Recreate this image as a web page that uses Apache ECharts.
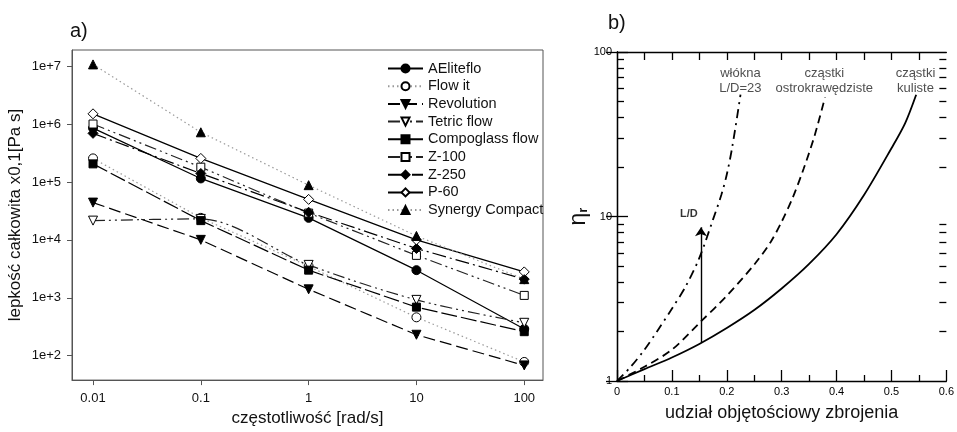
<!DOCTYPE html>
<html lang="pl">
<head>
<meta charset="UTF-8">
<title>Lepkość kompozytów</title>
<style>
  html, body { margin: 0; padding: 0; background: #fff; }
  #chart { width: 957px; height: 432px; }
</style>
<script src="https://cdn.jsdelivr.net/npm/echarts@6/dist/echarts.min.js"></script>
</head>
<body>
<div id="chart"></div>
<script>
  // ---- panel a) : lepkość vs częstotliwość ----
  var freq = [0.01, 0.1, 1, 10, 100];
  var freqLabels = ['0.01', '0.1', '1', '10', '100'];
  var viscTicks = [1e2, 1e3, 1e4, 1e5, 1e6, 1e7];

  var aeliteflo  = [8.5e5, 1.15e5, 2.4e4, 3.0e3, 2.9e2];
  var flowIt     = [2.55e5, 2.4e4, 3.5e3, 4.6e2, 78];
  var revolution = [4.4e4, 1.0e4, 1.4e3, 2.3e2, 68];
  var tetricFlow = [2.15e4, 2.3e4, 3.7e3, 9.2e2, 3.7e2];
  var compoglass = [2.05e5, 2.15e4, 3.0e3, 6.9e2, 2.6e2];
  var z100       = [1.0e6, 1.8e5, 2.9e4, 5.4e3, 1.1e3];
  var z250       = [6.9e5, 1.4e5, 3.0e4, 7.1e3, 2.1e3];
  var p60        = [1.5e6, 2.55e5, 5.0e4, 1.0e4, 2.8e3];
  var synergy    = [1.07e7, 7.2e5, 8.8e4, 1.17e4, 2.1e3];

  // ---- panel b) : eta_r vs udział objętościowy ----
  var phiTicks = [0, 0.1, 0.2, 0.3, 0.4, 0.5, 0.6];
  var phiMinor = [0.05, 0.15, 0.25, 0.35, 0.45, 0.55];
  var phiTop = [0.05, 0.1, 0.15, 0.2, 0.25, 0.3, 0.35, 0.4, 0.45, 0.5, 0.55];
  var etaMajor = [1, 10, 100];
  var etaMinor = [2, 3, 4, 5, 6, 7, 8, 9, 20, 30, 40, 50, 60, 70, 80, 90];

  var phiSphere = [0, 0.05, 0.1, 0.15, 0.2, 0.25, 0.3, 0.35, 0.4, 0.45, 0.5, 0.525, 0.545];
  var etaSphere = [1, 1.18, 1.39, 1.68, 2.1, 2.7, 3.65, 5.15, 7.8, 13.5, 26, 37, 55];
  var phiAngular = [0, 0.05, 0.1, 0.15, 0.2, 0.25, 0.28, 0.3, 0.32, 0.34, 0.36, 0.379];
  var etaAngular = [1, 1.22, 1.55, 2.25, 3.3, 5.1, 7.0, 9.3, 13, 19.5, 31, 53];
  var phiFibre = [0, 0.025, 0.05, 0.075, 0.1, 0.125, 0.15, 0.175, 0.19, 0.2, 0.21, 0.225];
  var etaFibre = [1, 1.22, 1.55, 2.05, 2.75, 3.75, 5.6, 9.6, 13.5, 18, 26.5, 55];

  var arrowPhi = 0.153, arrowFrom = 1.7, arrowTo = 8.6;
  var noteText = ['włókna\nL/D=23', 'cząstki\nostrokrawędziste', 'cząstki\nkuliste'];
  var notePhi = [0.2248, 0.3776, 0.5438];
  var noteEta = [66.8, 66.8, 66.8];

  var FONT = '"Liberation Sans", Arial, sans-serif';

  function pairs(xs, ys) {
    return xs.map(function (x, i) { return [x, ys[i]]; });
  }

  // styl serii panelu a
  var seriesA = [
    { name: 'AEliteflo', vals: aeliteflo, symbol: 'circle', fill: '#000', line: '#000', type: 'solid' },
    { name: 'Flow it', vals: flowIt, symbol: 'circle', fill: '#fff', line: '#999', type: [1.5, 3] },
    { name: 'Revolution', vals: revolution, symbol: 'triangle', rot: 180, fill: '#000', line: '#000', type: [12, 5] },
    { name: 'Tetric flow', vals: tetricFlow, symbol: 'triangle', rot: 180, fill: '#fff', line: '#222', type: [12, 4, 2, 4, 2, 4], smooth: 0.3 },
    { name: 'Compoglass flow', vals: compoglass, symbol: 'rect', fill: '#000', line: '#000', type: [16, 4] },
    { name: 'Z-100', vals: z100, symbol: 'rect', fill: '#fff', line: '#222', type: [12, 4, 2, 4, 2, 4] },
    { name: 'Z-250', vals: z250, symbol: 'diamond', fill: '#000', line: '#000', type: [14, 4, 2, 4] },
    { name: 'P-60', vals: p60, symbol: 'diamond', fill: '#fff', line: '#000', type: 'solid' },
    { name: 'Synergy Compact', vals: synergy, symbol: 'triangle', fill: '#000', line: '#999', type: [1.5, 3] }
  ];

  var series = seriesA.map(function (s) {
    return {
      name: s.name,
      type: 'line',
      xAxisIndex: 0,
      yAxisIndex: 0,
      data: pairs(freq, s.vals),
      smooth: s.smooth || false,
      symbol: s.symbol,
      symbolSize: s.symbol === 'diamond' ? 10 : (s.symbol === 'rect' ? 8 : 9),
      symbolRotate: s.rot || 0,
      itemStyle: { color: s.fill, borderColor: '#000', borderWidth: 1 },
      lineStyle: { color: s.line, width: 1.2, type: s.type },
      emphasis: { disabled: true }
    };
  });

  var lineB = function (name, xs, ys, type) {
    return {
      name: name, type: 'line', xAxisIndex: 1, yAxisIndex: 1,
      data: pairs(xs, ys), smooth: 0.3,
      showSymbol: false, symbol: 'none',
      lineStyle: { color: '#000', width: 1.8, type: type },
      emphasis: { disabled: true }
    };
  };

  var sphere = lineB('kuliste', phiSphere, etaSphere, 'solid');
  sphere.markLine = {
    silent: true,
    symbol: ['none', 'arrow'],
    symbolSize: 9,
    label: { show: false },
    lineStyle: { color: '#000', width: 1.4, type: 'solid' },
    data: [[{ coord: [arrowPhi, arrowFrom] }, { coord: [arrowPhi, arrowTo] }]]
  };
  series.push(sphere);
  series.push(lineB('ostrokrawedziste', phiAngular, etaAngular, [8, 5]));
  series.push(lineB('wlokna', phiFibre, etaFibre, [9, 5, 2, 5]));

  series.push({
    type: 'scatter', xAxisIndex: 1, yAxisIndex: 1, silent: true,
    symbolSize: 0,
    data: notePhi.map(function (p, i) { return [p, noteEta[i], noteText[i]]; }),
    label: {
      show: true, position: 'inside', formatter: function (p) { return p.data[2]; },
      fontFamily: FONT, fontSize: 13, lineHeight: 15, color: '#222', align: 'center'
    }
  });
  series.push({
    type: 'scatter', xAxisIndex: 1, yAxisIndex: 1, silent: true,
    symbolSize: 0,
    data: [[0.131, 10.4, 'L/D']],
    label: {
      show: true, position: 'inside', formatter: function (p) { return p.data[2]; },
      fontFamily: FONT, fontSize: 11, fontWeight: 'bold', color: '#000'
    }
  });

  var blackLine = { show: true, lineStyle: { color: '#000', width: 1.3 } };
  function inTick(vals, len) {
    return { show: true, inside: true, customValues: vals, length: len, lineStyle: { color: '#000', width: 1.3 } };
  }

  var option = {
    animation: false,
    textStyle: { fontFamily: FONT },
    title: [
      { text: 'a)', left: 65, top: 16, textStyle: { fontSize: 20, fontWeight: 'normal', color: '#111', fontFamily: FONT } },
      { text: 'b)', left: 603, top: 8, textStyle: { fontSize: 20, fontWeight: 'normal', color: '#111', fontFamily: FONT } }
    ],
    legend: {
      orient: 'vertical',
      left: 387, top: 61,
      padding: 0,
      itemWidth: 35, itemHeight: 10, itemGap: 2.7,
      selectedMode: false,
      textStyle: { fontSize: 14.5, lineHeight: 14, color: '#111', fontFamily: FONT },
      data: seriesA.map(function (s) { return s.name; })
    },
    grid: [
      { left: 72, right: 414, top: 50, bottom: 51, show: true, borderColor: '#555', borderWidth: 1 },
      { left: 617, right: 10, top: 52, bottom: 51 }
    ],
    xAxis: [
      {
        type: 'log', gridIndex: 0,
        min: Math.pow(10, -2.195), max: Math.pow(10, 2.174),
        axisLine: { show: true, lineStyle: { color: '#555', width: 1 } },
        axisTick: { show: true, customValues: freq, length: 5, lineStyle: { color: '#555' } },
        axisLabel: {
          customValues: freq, margin: 12, fontSize: 13, color: '#111',
          formatter: function (v) { return freqLabels[Math.round(Math.log10(v)) + 2]; }
        },
        splitLine: { show: false },
        name: 'częstotliwość [rad/s]', nameLocation: 'middle', nameGap: 29,
        nameTextStyle: { fontSize: 17, color: '#111' }
      },
      {
        type: 'value', gridIndex: 1, position: 'bottom',
        min: 0, max: 0.6, interval: 0.1,
        axisLine: blackLine,
        axisTick: inTick(phiTicks, 11),
        axisLabel: {
          customValues: phiTicks, fontSize: 11, color: '#000', margin: 5,
          formatter: function (v) { return v === 0 ? '0' : v.toFixed(1); }
        },
        splitLine: { show: false },
        name: 'udział objętościowy zbrojenia', nameLocation: 'middle', nameGap: 23,
        nameTextStyle: { fontSize: 18, color: '#111' }
      },
      {
        type: 'value', gridIndex: 1, position: 'bottom',
        min: 0, max: 0.6, interval: 0.05,
        axisLine: { show: false },
        axisTick: inTick(phiMinor, 6),
        axisLabel: { show: false },
        splitLine: { show: false }
      },
      {
        type: 'value', gridIndex: 1, position: 'top',
        min: 0, max: 0.6, interval: 0.05,
        axisLine: blackLine,
        axisTick: inTick(phiTop, 8),
        axisLabel: { show: false },
        splitLine: { show: false }
      }
    ],
    yAxis: [
      {
        type: 'log', gridIndex: 0,
        min: Math.pow(10, 1.579), max: Math.pow(10, 7.278),
        axisLine: { show: true, lineStyle: { color: '#555', width: 1 } },
        axisTick: { show: true, customValues: viscTicks, length: 5, lineStyle: { color: '#555' } },
        axisLabel: {
          customValues: viscTicks, margin: 11, fontSize: 13, color: '#111',
          formatter: function (v) { return '1e+' + Math.round(Math.log10(v)); }
        },
        splitLine: { show: false },
        name: 'lepkość całkowita x0,1[Pa s]', nameLocation: 'middle', nameGap: 48,
        nameTextStyle: { fontSize: 17, color: '#111' }
      },
      {
        type: 'log', gridIndex: 1, position: 'left', min: 1, max: 100,
        axisLine: blackLine,
        axisTick: inTick(etaMajor, 11),
        axisLabel: { customValues: etaMajor, fontSize: 11, color: '#000', margin: 5 },
        splitLine: { show: false },
        name: '{e|η}{r|r}', nameLocation: 'middle', nameGap: 27, nameRotate: 90,
        nameTextStyle: {
          rich: {
            e: { fontSize: 23, color: '#111', fontFamily: FONT },
            r: { fontSize: 13, fontWeight: 'bold', color: '#111', verticalAlign: 'bottom', fontFamily: FONT }
          }
        }
      },
      {
        type: 'log', gridIndex: 1, position: 'left', min: 1, max: 100,
        axisLine: { show: false },
        axisTick: inTick(etaMinor, 7),
        axisLabel: { show: false },
        splitLine: { show: false }
      },
      {
        type: 'log', gridIndex: 1, position: 'right', min: 1, max: 100,
        axisLine: blackLine,
        axisTick: inTick(etaMajor, 11),
        axisLabel: { show: false },
        splitLine: { show: false }
      },
      {
        type: 'log', gridIndex: 1, position: 'right', min: 1, max: 100,
        axisLine: { show: false },
        axisTick: inTick(etaMinor, 7),
        axisLabel: { show: false },
        splitLine: { show: false }
      }
    ],
    series: series
  };

  var myChart = echarts.init(document.getElementById('chart'));
  myChart.setOption(option);
</script>
</body>
</html>
